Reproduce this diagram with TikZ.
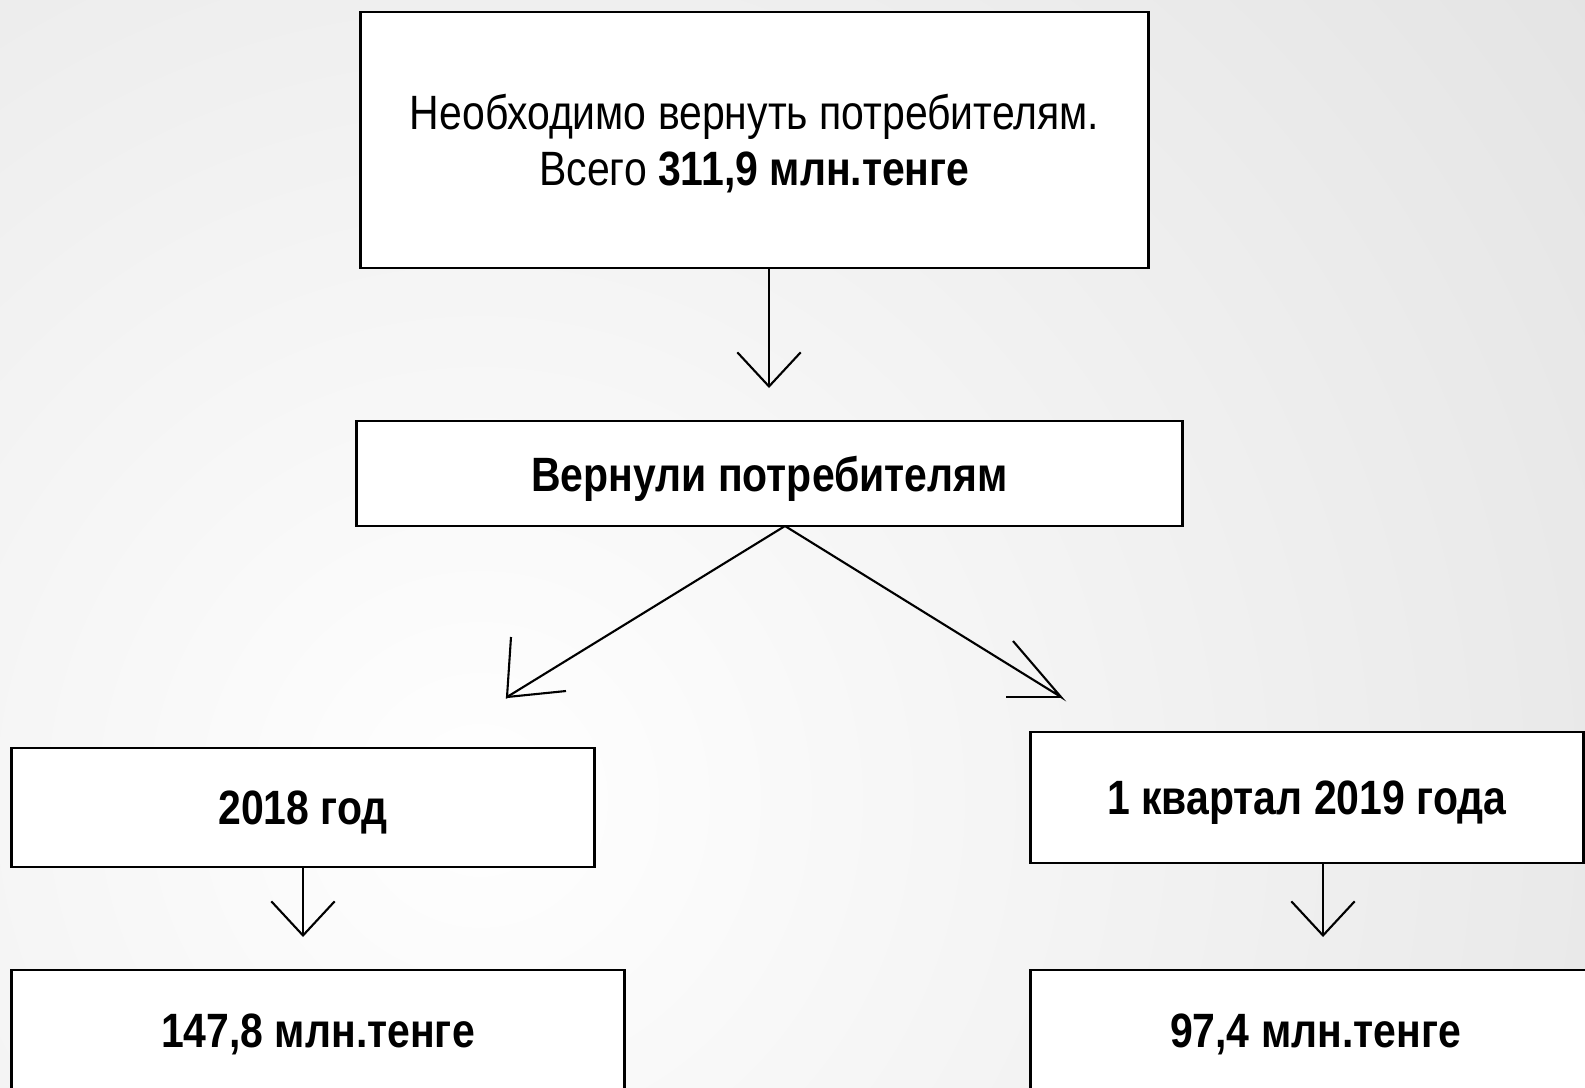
\documentclass[tikz,border=0pt]{standalone}
\usepackage{fontspec}
\setmainfont[FakeStretch=0.85]{Liberation Sans}
\usetikzlibrary{arrows.meta}

\begin{document}
\begin{tikzpicture}[x=0.01cm, y=-0.01cm,
  cell/.style = {draw, fill=white, line width=0.8pt, inner sep=0pt, align=center,
    text depth=0pt, font=\fontsize{13.7}{15.9}\selectfont},
  link/.style = {line width=0.6pt},
  drop/.style = {link, -{Straight Barb[length=9.7pt, width=18pt]}}]
  \useasboundingbox (0,0) rectangle (1585,1087);
  \clip (0,0) rectangle (1585,1087);
  \shade[inner color=white, outer color=gray!40] (480,800) circle (2600);

  \node[cell, minimum width=7.87cm, minimum height=2.56cm] (need) at (754.5,140)
    {Необходимо вернуть потребителям.\\Всего \textbf{311,9 млн.тенге}};
  \node[cell, minimum width=8.25cm, minimum height=1.05cm] (back) at (769.5,473.5)
    {\textbf{Вернули потребителям}};
  \node[cell, minimum width=5.82cm, minimum height=1.19cm] (y18) at (303,807.5)
    {\textbf{2018 год}};
  \node[cell, minimum width=5.52cm, minimum height=1.31cm] (q19) at (1307,797.5)
    {\textbf{1 квартал 2019 года}};
  \node[cell, minimum width=6.12cm, minimum height=1.22cm] (s18) at (318,1031)
    {\textbf{147,8 млн.тенге}};
  \node[cell, minimum width=5.69cm, minimum height=1.22cm] (s19) at (1315.5,1031)
    {\textbf{97,4 млн.тенге}};

  \coordinate (t1) at (769,388);
  \coordinate (fork) at (785,526);
  \coordinate (tl) at (507,697);
  \coordinate (tr) at (1061,697);
  \coordinate (t2) at (303,937);
  \coordinate (t3) at (1323,937);

  \draw[drop] (need.south -| t1) -- (t1);
  \draw[link] (fork) -- (tl) -- ++(4,-60);
  \draw[link] (tl) -- ++(59,-6);
  \draw[link] (fork) -- (tr) -- ++(-48,-56);
  \draw[link] (tr) -- ++(-55,0);
  \draw[drop] (y18.south -| t2) -- (t2);
  \draw[drop] (q19.south -| t3) -- (t3);
\end{tikzpicture}
\end{document}
